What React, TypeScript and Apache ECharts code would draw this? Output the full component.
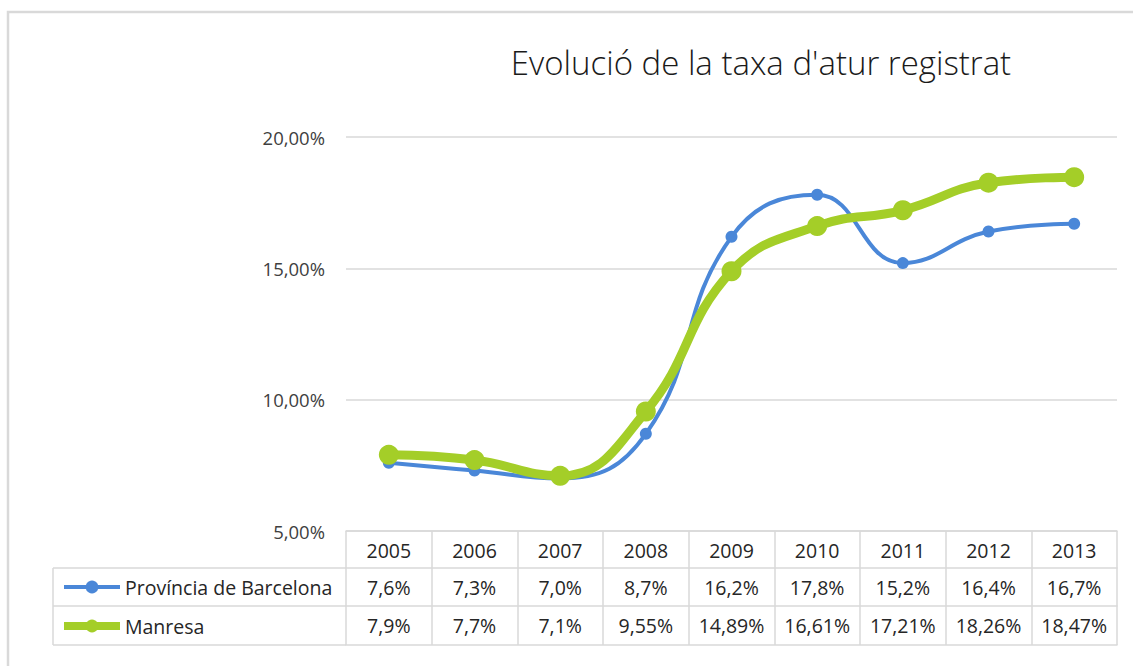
import React, { useEffect, useRef } from "react";
import * as echarts from "echarts";

const years = ["2005", "2006", "2007", "2008", "2009", "2010", "2011", "2012", "2013"];
const barcelonaValues = [7.6, 7.3, 7.0, 8.7, 16.2, 17.8, 15.2, 16.4, 16.7];
const manresaValues = [7.9, 7.7, 7.1, 9.55, 14.89, 16.61, 17.21, 18.26, 18.47];
const barcelonaLabels = ["7,6%", "7,3%", "7,0%", "8,7%", "16,2%", "17,8%", "15,2%", "16,4%", "16,7%"];
const manresaLabels = ["7,9%", "7,7%", "7,1%", "9,55%", "14,89%", "16,61%", "17,21%", "18,26%", "18,47%"];
const seriesNames = ["Província de Barcelona", "Manresa"];
const titleText = "Evolució de la taxa d'atur registrat";
const yMin = 5;
const yMax = 20;
const yStep = 5;

const FONT = "'Open Sans', Lato, sans-serif";
const GRID_COLOR = "#d9d9d9";
const BLUE = "#4a87d8";
const GREEN = "#a4ce28";
const TEXT = "#262626";

export default function App() {
  const ref = useRef<HTMLDivElement>(null);

  useEffect(() => {
    if (!ref.current) return;
    const chart = echarts.init(ref.current, undefined, { renderer: "svg" });

    const gridLeft = 346;
    const gridRight = 1117;
    const gridTop = 137;
    const gridBottom = 531;
    const row1 = 568;
    const row2 = 606;
    const row3 = 645;

    const tableAxis = (labels: string[] | null, offset: number) => ({
      type: "category",
      gridIndex: 0,
      position: "bottom",
      offset,
      data: labels ?? years,
      boundaryGap: true,
      axisLine: { show: true, lineStyle: { color: GRID_COLOR, width: 1.5 } },
      axisTick: { show: false },
      axisLabel: {
        show: labels !== null,
        interval: 0,
        margin: 19,
        verticalAlign: "middle",
        fontFamily: FONT,
        fontSize: 19.5,
        color: TEXT,
      },
      splitLine: { show: false },
    });

    chart.setOption({
      animation: false,
      backgroundColor: "#ffffff",
      title: {
        text: titleText,
        left: 756,
        top: 41,
        textAlign: "center",
        textStyle: {
          fontFamily: FONT,
          fontSize: 33,
          fontWeight: 300,
          color: "#1a1a1a",
        },
      },
      legend: {
        orient: "vertical",
        left: 55,
        top: 572,
        itemWidth: 56,
        itemHeight: 16,
        itemGap: 19,
        textStyle: { fontFamily: FONT, fontSize: 19.5, color: TEXT },
        data: [
          { name: seriesNames[0], lineStyle: { width: 4, color: BLUE }, itemStyle: { color: BLUE } },
          { name: seriesNames[1], lineStyle: { width: 8, color: GREEN }, itemStyle: { color: GREEN } },
        ],
      },
      grid: {
        left: gridLeft,
        top: gridTop,
        width: gridRight - gridLeft,
        height: gridBottom - gridTop,
        containLabel: false,
      },
      xAxis: [
        {
          type: "category",
          position: "bottom",
          data: years,
          boundaryGap: true,
          axisLine: { show: true, lineStyle: { color: GRID_COLOR, width: 1.5 } },
          axisTick: {
            show: true,
            interval: 0,
            length: row3 - gridBottom,
            lineStyle: { color: GRID_COLOR, width: 1.5 },
          },
          axisLabel: {
            interval: 0,
            margin: 19,
            verticalAlign: "middle",
            fontFamily: FONT,
            fontSize: 19.5,
            color: TEXT,
          },
        },
        tableAxis(barcelonaLabels, row1 - gridBottom),
        tableAxis(manresaLabels, row2 - gridBottom),
        tableAxis(null, row3 - gridBottom),
      ],
      yAxis: {
        type: "value",
        min: yMin,
        max: yMax,
        interval: yStep,
        axisLine: { show: false },
        axisTick: { show: false },
        axisLabel: {
          margin: 21,
          fontFamily: FONT,
          fontSize: 18.5,
          color: "#404040",
          formatter: (v: number) => v.toFixed(2).replace(".", ",") + "%",
        },
        splitLine: { lineStyle: { color: GRID_COLOR, width: 1.5 } },
      },
      series: [
        {
          name: seriesNames[0],
          type: "line",
          xAxisIndex: 0,
          data: barcelonaValues,
          smooth: 0.45,
          symbol: "circle",
          symbolSize: 12,
          lineStyle: { color: BLUE, width: 4 },
          itemStyle: { color: BLUE },
        },
        {
          name: seriesNames[1],
          type: "line",
          xAxisIndex: 0,
          data: manresaValues,
          smooth: 0.45,
          symbol: "circle",
          symbolSize: 20,
          lineStyle: { color: GREEN, width: 9 },
          itemStyle: { color: GREEN },
        },
      ],
      graphic: [
        {
          type: "rect",
          silent: true,
          shape: { x: 8, y: 12, width: 1200, height: 800 },
          style: { fill: "none", stroke: GRID_COLOR, lineWidth: 2.5 },
        },
        {
          type: "line",
          silent: true,
          shape: { x1: 53, y1: row1, x2: gridLeft, y2: row1 },
          style: { stroke: GRID_COLOR, lineWidth: 1.5 },
        },
        {
          type: "line",
          silent: true,
          shape: { x1: 53, y1: row2, x2: gridLeft, y2: row2 },
          style: { stroke: GRID_COLOR, lineWidth: 1.5 },
        },
        {
          type: "line",
          silent: true,
          shape: { x1: 53, y1: row3, x2: gridLeft, y2: row3 },
          style: { stroke: GRID_COLOR, lineWidth: 1.5 },
        },
        {
          type: "line",
          silent: true,
          shape: { x1: 53, y1: row1, x2: 53, y2: row3 },
          style: { stroke: GRID_COLOR, lineWidth: 1.5 },
        },
      ],
    });

    return () => chart.dispose();
  }, []);

  return (
    <div
      ref={ref}
      style={{ position: "absolute", left: 0, top: 0, width: 1133, height: 666, background: "#fff" }}
    />
  );
}
